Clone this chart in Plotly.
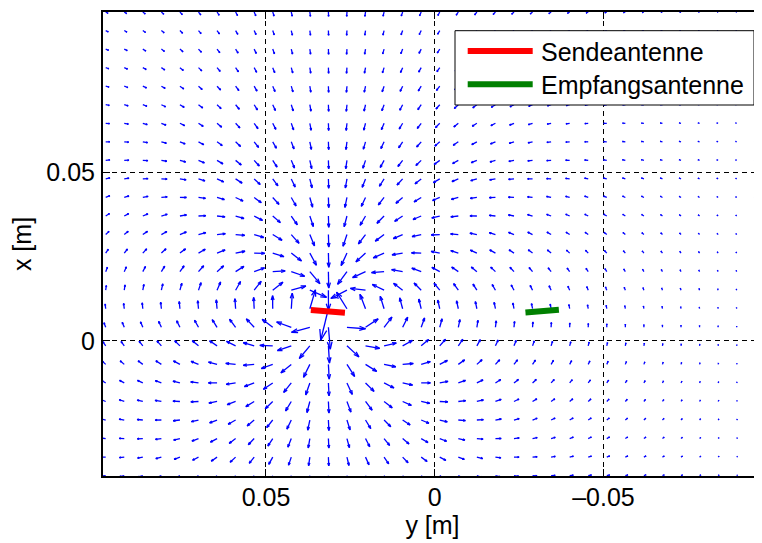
import numpy as np
import plotly.graph_objects as go

# ---------------- data ----------------
# sample grid of the field (horizontal axis = "y [m]", vertical axis = "x [m]")
grid_h_start, grid_h_step, grid_h_count = 0.0975, -0.0055, 36
grid_v_start, grid_v_step, grid_v_count = -0.04, 0.0055, 26

# antenna end points (y, x) in metres
send_h = [0.0367, 0.0266]
send_v = [0.0091, 0.0083]
recv_h = [-0.0269, -0.0368]
recv_v = [0.0084, 0.0092]

x_tickvals = [0.05, 0.0, -0.05]
x_ticktext = ["0.05", "0", "\u20130.05"]
y_tickvals = [0.0, 0.05]
y_ticktext = ["0", "0.05"]

legend_names = ["Sendeantenne", "Empfangsantenne"]
legend_colors = ["#FF0000", "#008000"]

x_range = [0.0983, -0.0970]
y_range = [-0.0401, 0.0975]

# ---------------- field of the transmitting loop (magnetic dipole) ----------------
hg = grid_h_start + grid_h_step * np.arange(grid_h_count)
vg = grid_v_start + grid_v_step * np.arange(grid_v_count)
H, V = np.meshgrid(hg, vg)

c = np.array([np.mean(send_h), np.mean(send_v)])
d = np.array([send_h[1] - send_h[0], send_v[1] - send_v[0]])
m = np.array([-d[1], d[0]])
m = m / np.hypot(*m)

rx, ry = H - c[0], V - c[1]
r = np.hypot(rx, ry)
ux, uy = rx / r, ry / r
mdr = m[0] * ux + m[1] * uy
Bx = (3 * mdr * ux - m[0]) / r**3
By = (3 * mdr * uy - m[1]) / r**3
Bmag = np.hypot(Bx, By)

# arrow length ~ logarithm of field strength (as in the figure)
logB = np.log(Bmag)
scale = 0.00059
L = scale * (logB - logB.min() + 0.25)
U = Bx / Bmag * L
W = By / Bmag * L

alpha, beta = 0.33, 0.33
xs, ys = [], []
for x0, y0, u, w in zip(H.ravel(), V.ravel(), U.ravel(), W.ravel()):
    tx, ty = x0 + u, y0 + w
    p1x, p1y = tx - alpha * (u + beta * w), ty - alpha * (w - beta * u)
    p2x, p2y = tx - alpha * (u - beta * w), ty - alpha * (w + beta * u)
    xs += [x0, tx, None, p1x, tx, p2x, None]
    ys += [y0, ty, None, p1y, ty, p2y, None]

fig = go.Figure()
fig.add_trace(go.Scatter(x=xs, y=ys, mode="lines",
                         line=dict(color="#0000FF", width=1.3),
                         hoverinfo="skip", showlegend=False))
fig.add_trace(go.Scatter(x=send_h, y=send_v, mode="lines", name=legend_names[0],
                         line=dict(color=legend_colors[0], width=6), showlegend=False))
fig.add_trace(go.Scatter(x=recv_h, y=recv_v, mode="lines", name=legend_names[1],
                         line=dict(color=legend_colors[1], width=6), showlegend=False))

# the page body has an 8 px margin: figure coordinates = page coordinates - 8
OFF = 8
W_FIG, H_FIG = 762 - OFF, 543 - OFF
ML, MR, MT, MB = 103 - OFF, 0, 12 - OFF, 543 - 476
PW, PH = W_FIG - ML - MR, H_FIG - MT - MB

def px(xp):  # page pixel -> paper fraction
    return (xp - OFF - ML) / PW

def py(yp):
    return (H_FIG - MB - (yp - OFF)) / PH

FONT = "Liberation Sans, Arial, Helvetica, sans-serif"

shapes = [dict(type="rect", xref="paper", yref="paper",
               x0=px(455), x1=px(754), y0=py(105), y1=py(30.7),
               fillcolor="white", line=dict(color="black", width=1), layer="above")]
annotations = []
for i, (name, col) in enumerate(zip(legend_names, legend_colors)):
    yc = 51 + i * 33.3
    shapes.append(dict(type="line", xref="paper", yref="paper",
                       x0=px(467.7), x1=px(532.7), y0=py(yc), y1=py(yc),
                       line=dict(color=col, width=6), layer="above"))
    annotations.append(dict(xref="paper", yref="paper", x=px(539), y=py(yc + 1),
                            text=name, showarrow=False, xanchor="left", yanchor="middle",
                            font=dict(size=25, color="black", family=FONT)))

axis_common = dict(showline=True, linecolor="black", linewidth=2,
                   ticks="inside", ticklen=7, tickwidth=1, tickcolor="black",
                   showgrid=True, gridcolor="black", gridwidth=1, griddash="5px,4px",
                   zeroline=False, tickfont=dict(size=25, color="black", family=FONT))

fig.update_layout(
    width=W_FIG, height=H_FIG,
    margin=dict(l=ML, r=MR, t=MT, b=MB, autoexpand=False),
    paper_bgcolor="white", plot_bgcolor="white",
    font=dict(family=FONT, color="black", size=25),
    xaxis=dict(range=x_range, tickvals=x_tickvals, ticktext=x_ticktext, mirror="ticks",
               title=dict(text="y [m]", font=dict(size=25), standoff=6),
               ticklabelstandoff=-2, automargin=False, **axis_common),
    yaxis=dict(range=y_range, tickvals=y_tickvals, ticktext=y_ticktext, mirror=False,
               title=dict(text="x [m]", font=dict(size=25), standoff=9),
               ticklabelstandoff=1, automargin=False, **axis_common),
    shapes=shapes, annotations=annotations, showlegend=False,
)

fig.write_html("out.html")
